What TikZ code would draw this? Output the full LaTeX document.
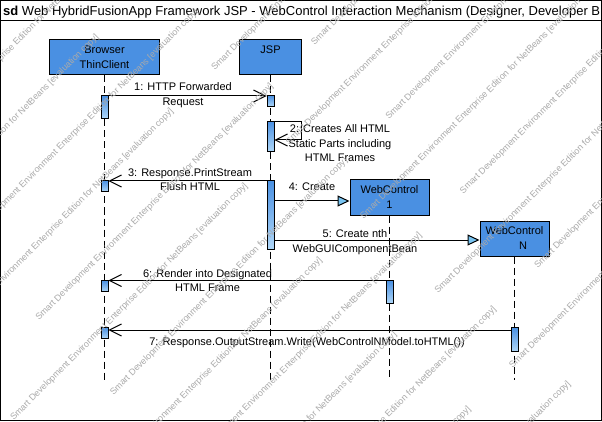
\documentclass[tikz,border=0pt]{standalone}
\usepackage{fontspec}
\setmainfont{Liberation Sans}
\usetikzlibrary{arrows.meta}
\definecolor{boxblue}{RGB}{74,144,226}
\definecolor{actlight}{RGB}{175,215,248}
\definecolor{trifill}{RGB}{120,195,240}
\definecolor{wmgray}{RGB}{170,170,170}
\tikzset{
  headbox/.style={draw=black, line width=1pt, fill=boxblue, inner sep=0pt, align=center,
    font=\fontsize{11}{15}\selectfont},
  actbar/.style={draw=black, line width=0.9pt, top color=boxblue, bottom color=actlight,
    minimum width=7pt, inner sep=0pt, anchor=north},
  lifeline/.style={draw=black, line width=1pt, dash pattern=on 7pt off 4pt},
  msgbarb/.style={draw=black, line width=1pt, -{Straight Barb[length=12pt,width=12pt,line width=1pt]}},
  msgtri/.style={draw=black, line width=1pt, -{Triangle[length=12pt,width=11pt,fill=trifill,line width=1pt]}},
  msglabel/.style={inner sep=0pt, align=center, font=\fontsize{11}{14.5}\selectfont},
  wmtext/.style={inner sep=0pt, anchor=base west, rotate=45, text=wmgray,
    font=\fontsize{9}{9}\selectfont}
}
\begin{document}
\begin{tikzpicture}[x=1pt,y=-1pt]
\useasboundingbox (0,0) rectangle (602,422);
\fill[white] (0,0) rectangle (602,422);
% frame
\draw[line width=1pt] (0.5,0.5) rectangle (601.5,420.5);
\draw[line width=1pt] (0,21) -- (602,21);
\begin{scope}
\clip (0,0) rectangle (601,21);
\node[inner sep=0pt, anchor=base west, font=\fontsize{13}{15}\selectfont] (title) at (3,15.5)
  {\textbf{sd} Web HybridFusionApp Framework JSP - WebControl Interaction Mechanism (Designer, Developer B};
\end{scope}

% heads
\node[headbox, minimum width=110pt, minimum height=35pt] (bro) at (104.5,57.5) {Browser\\ThinClient};
\node[headbox, minimum width=62pt, minimum height=35pt] (jsp) at (270.5,57.5) {JSP\\\mbox{}};
\node[headbox, minimum width=79pt, minimum height=35pt] (wc1) at (389.5,197.5) {WebControl\\1};
\node[headbox, minimum width=69pt, minimum height=35pt] (wcn) at (514.5,238.5) {WebControl\\\hspace*{17pt}N};

% lifeline ends
\coordinate (broend) at (104.5,380);
\coordinate (jspend) at (270.5,380);
\coordinate (wc1end) at (389.5,377);
\coordinate (wcnend) at (514.5,380);
\draw[lifeline] (bro.south) -- (broend);
\draw[lifeline] (jsp.south) -- (jspend);
\draw[lifeline] (wc1.south) -- (wc1end);
\draw[lifeline] (wcn.south) -- (wcnend);

% activations
\node[actbar, minimum height=23pt] (b1) at (104.5,95) {};
\node[actbar, minimum height=11pt] (j1) at (270.5,95) {};
\node[actbar, minimum height=30pt] (j2) at (270.5,121) {};
\node[actbar, minimum height=11pt] (b2) at (104.5,180) {};
\node[actbar, minimum height=69pt] (j3) at (270.5,180) {};
\node[actbar, minimum height=23pt] (w1a) at (389.5,280) {};
\node[actbar, minimum height=11pt] (b3) at (104.5,280) {};
\node[actbar, minimum height=11pt] (b4) at (104.5,327) {};
\node[actbar, minimum height=24pt] (wna) at (514.5,327) {};

% message rows
\coordinate (y1) at (0,96);
\coordinate (y2a) at (0,121.5);
\coordinate (y2b) at (0,140);
\coordinate (y3) at (0,181);
\coordinate (y4) at (0,201);
\coordinate (y5) at (0,240);
\coordinate (y6) at (0,280.5);
\coordinate (y7) at (0,330);
\coordinate (selfa) at (301,121.5);
\coordinate (selfb) at (301,140);

\draw[msgbarb] (b1.east |- y1) -- (j1.west |- y1);
\draw[msgbarb] (j2.east |- y2a) -- (selfa) -- (selfb) -- (j2.east |- y2b);
\draw[msgbarb] (j3.west |- y3) -- (b2.east |- y3);
\draw[msgtri] (j3.east |- y4) -- (wc1.west |- y4);
\draw[msgtri] (j3.east |- y5) -- (wcn.west |- y5);
\draw[msgbarb] (w1a.west |- y6) -- (b3.east |- y6);
\draw[msgbarb] (wna.west |- y7) -- (b4.east |- y7);

% labels
\node[msglabel] (l1) at (183,95) {1: HTTP Forwarded\\Request};
\node[msglabel] (l2) at (340,143.5) {2: Creates All HTML\\Static Parts including\\HTML Frames};
\node[msglabel] (l3) at (190,179.5) {3: Response.PrintStream\\Flush HTML};
\node[msglabel] (l4) at (312,187) {4: Create};
\node[msglabel] (l5) at (355,242) {5: Create nth\\WebGUIComponentBean};
\node[msglabel] (l6) at (207.5,280.5) {6: Render into Designated\\HTML Frame};
\node[msglabel] (l7) at (307,343) {7: Response.OutputStream.Write(WebControlNModel.toHTML())};

% watermark
\begin{scope}
\clip (0,0) rectangle (602,422);
\foreach \k in {-5,...,9} {
  \pgfmathsetmacro{\cc}{360+74.4*\k}
  \pgfmathsetmacro{\uo}{ifthenelse(isodd(\k),-407,-282)}
  \foreach \m in {-2,...,2} {
    \pgfmathsetmacro{\uu}{\uo+551*\m}
    \pgfmathsetmacro{\px}{(\cc+\uu)/2}
    \pgfmathsetmacro{\py}{(\cc-\uu)/2}
    \node[wmtext] (wm\k x\m) at (\px,\py) {Smart Development Environment Enterprise Edition for NetBeans [evaluation copy]};
  }
}
\end{scope}
\end{tikzpicture}
\end{document}
